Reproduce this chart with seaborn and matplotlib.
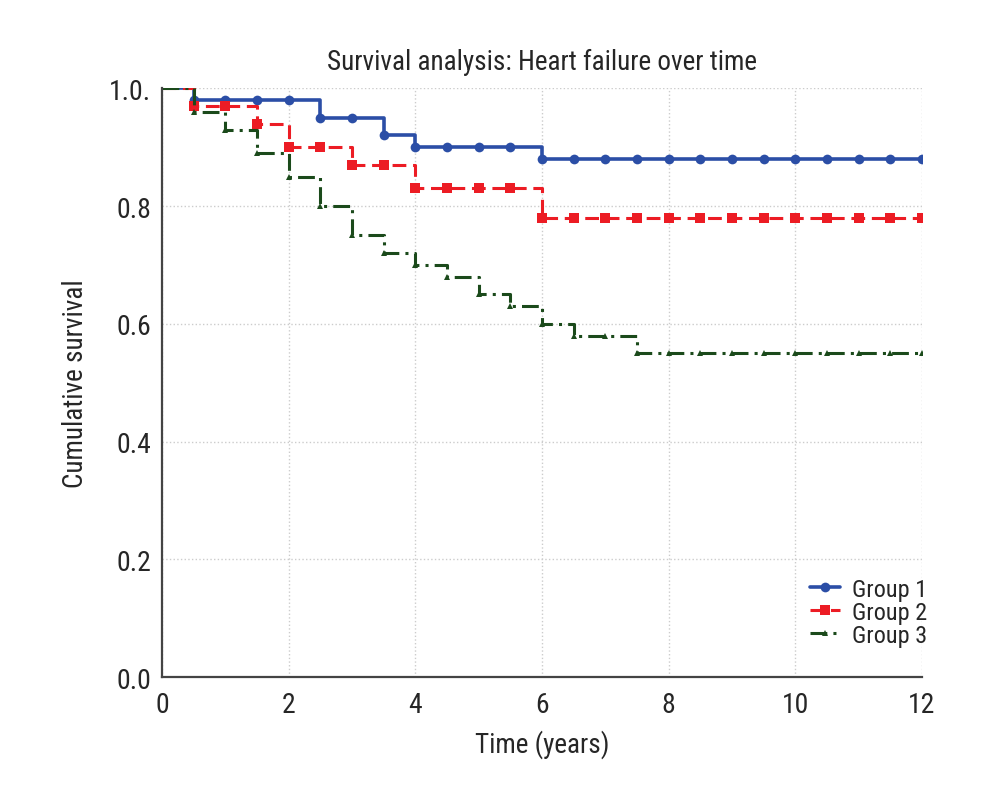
import numpy as np
import pandas as pd
import matplotlib
matplotlib.use('Agg')
import matplotlib.pyplot as plt
from matplotlib import font_manager
import seaborn as sns

# Survival values, every half year from 0 to 12
time = [0.0, 0.5, 1.0, 1.5, 2.0, 2.5, 3.0, 3.5, 4.0, 4.5, 5.0, 5.5, 6.0,
        6.5, 7.0, 7.5, 8.0, 8.5, 9.0, 9.5, 10.0, 10.5, 11.0, 11.5, 12.0]
group1 = [1.00, 0.98, 0.98, 0.98, 0.98, 0.95, 0.95, 0.92, 0.90, 0.90, 0.90, 0.90, 0.88,
          0.88, 0.88, 0.88, 0.88, 0.88, 0.88, 0.88, 0.88, 0.88, 0.88, 0.88, 0.88]
group2 = [1.00, 0.97, 0.97, 0.94, 0.90, 0.90, 0.87, 0.87, 0.83, 0.83, 0.83, 0.83, 0.78,
          0.78, 0.78, 0.78, 0.78, 0.78, 0.78, 0.78, 0.78, 0.78, 0.78, 0.78, 0.78]
group3 = [1.00, 0.96, 0.93, 0.89, 0.85, 0.80, 0.75, 0.72, 0.70, 0.68, 0.65, 0.63, 0.60,
          0.58, 0.58, 0.55, 0.55, 0.55, 0.55, 0.55, 0.55, 0.55, 0.55, 0.55, 0.55]
groups = ['Group 1', 'Group 2', 'Group 3']

df = pd.DataFrame({
    'time': time * 3,
    'survival': group1 + group2 + group3,
    'group': np.repeat(groups, len(time)),
})

sns.set_theme(style='white')
installed = {f.name for f in font_manager.fontManager.ttflist}
family = 'Liberation Sans'
for cand in ['Roboto Condensed', 'Liberation Sans Narrow', 'Open Sans Condensed']:
    if cand in installed:
        family = cand
        break
plt.rcParams['font.family'] = [family, 'DejaVu Sans']

fig = plt.figure(figsize=(10, 8.12), dpi=100)
ax = fig.add_axes([0.162, 0.165, 0.76, 0.725])

palette = {'Group 1': '#2b4ea6', 'Group 2': '#ec1c24', 'Group 3': '#1b4a1b'}
markers = {'Group 1': 'o', 'Group 2': 's', 'Group 3': '^'}
dashes = {'Group 1': '', 'Group 2': (4.5, 2.2), 'Group 3': (5.5, 2, 1, 2)}

sns.lineplot(data=df, x='time', y='survival', hue='group', style='group',
             palette=palette, markers=markers, dashes=dashes,
             drawstyle='steps-post', markevery=slice(1, None),
             linewidth=2.2, markersize=6.5, markeredgewidth=0, ax=ax)

# thicker blue line, smaller triangles like the original
for line in ax.get_lines():
    if line.get_marker() == 'o':
        line.set_linewidth(2.6)
        line.set_markersize(7)
    elif line.get_marker() == '^':
        line.set_markersize(5)

ax.set_xlim(0, 12)
ax.set_ylim(0, 1.0)
ax.set_xticks(range(0, 13, 2))
ax.set_yticks(np.arange(0, 1.01, 0.2))
ax.set_yticklabels(['0.0', '0.2', '0.4', '0.6', '0.8', '1.0.'])
ax.grid(True, color='#cccccc', linestyle=':', linewidth=1.0)

for side in ['top', 'right']:
    ax.spines[side].set_visible(False)
for side in ['left', 'bottom']:
    ax.spines[side].set_color('#444444')
    ax.spines[side].set_linewidth(1.6)

ax.tick_params(axis='both', direction='in', length=4, width=1.2, color='#444444',
               labelsize=20, left=False)
ax.tick_params(axis='x', pad=10)
ax.tick_params(axis='y', pad=8)
ax.set_title('Survival analysis: Heart failure over time', fontsize=19.5, pad=14)
ax.set_xlabel('Time (years)', fontsize=19.5, labelpad=8)
ax.set_ylabel('Cumulative survival', fontsize=19.5, labelpad=14)

leg = ax.legend(loc='lower right', frameon=False, fontsize=17.5, handlelength=1.25,
                handletextpad=0.5, labelspacing=0.0, borderaxespad=0.0,
                bbox_to_anchor=(1.02, 0.035))

plt.savefig('out.png', dpi=100)
plt.close('all')
